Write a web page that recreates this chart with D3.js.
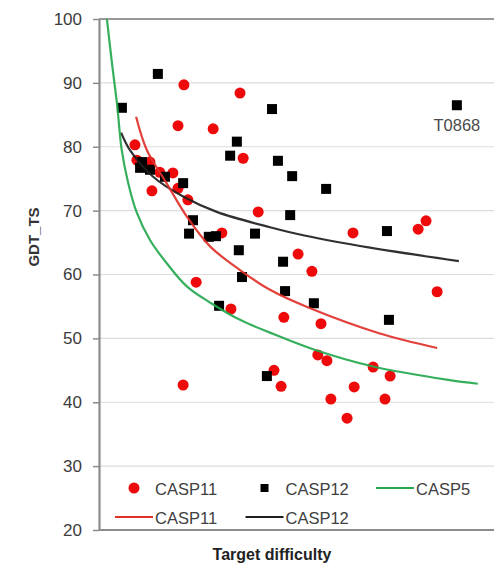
<!DOCTYPE html>
<html>
<head>
<meta charset="utf-8">
<script src="https://cdn.jsdelivr.net/npm/d3@7"></script>
<style>
  body { margin: 0; background: #fff; }
  text { font-family: "Liberation Sans", Arial, sans-serif; }
</style>
</head>
<body>
<div id="container"></div>
<script>
// x is a unitless "target difficulty" position (0..100), y is GDT_TS
let casp11Points = [
  [21.5, 89.7], [35.7, 88.4], [20.0, 83.3], [28.9, 82.8], [9.1, 80.3], [36.5, 78.2],
  [9.6, 77.9], [12.9, 77.6], [15.4, 76.0], [18.7, 75.9], [13.4, 73.1], [20.0, 73.5],
  [22.5, 71.7], [31.1, 66.5], [40.3, 69.8], [24.6, 58.8], [33.4, 54.6], [21.3, 42.7],
  [50.4, 63.2], [53.9, 60.5], [64.3, 66.5], [46.8, 53.3], [56.2, 52.3], [55.4, 47.4],
  [57.7, 46.5], [69.4, 45.5], [73.7, 44.1], [44.3, 45.0], [46.1, 42.5], [58.7, 40.5],
  [64.6, 42.4], [72.4, 40.5], [62.8, 37.5], [85.6, 57.3], [82.8, 68.4], [80.8, 67.1]
];

let casp12Points = [
  [5.8, 86.1], [14.9, 91.4], [10.9, 77.6], [10.4, 76.7], [12.9, 76.4], [16.7, 75.3],
  [21.3, 74.3], [23.8, 68.5], [22.8, 66.4], [27.8, 65.9], [29.6, 66.0], [35.4, 63.8],
  [33.2, 78.6], [34.9, 80.8], [43.8, 85.9], [45.3, 77.8], [48.9, 75.4], [57.5, 73.4],
  [48.4, 69.3], [39.5, 66.4], [46.6, 62.0], [72.9, 66.8], [90.6, 86.5], [47.1, 57.4],
  [54.4, 55.5], [73.4, 52.9], [42.5, 44.1], [30.4, 55.1], [36.2, 59.6]
];

// trend lines
let casp5Trend = [
  [2.0, 100], [3.3, 93], [4.6, 86.5], [5.75, 79.5], [7.4, 74.3], [9.5, 69.8],
  [12.9, 65.4], [17.1, 61.8], [22.3, 58.1], [28.4, 55.5], [35.7, 52.9], [43.3, 50.9],
  [54.2, 48.3], [69.4, 45.6], [88.4, 43.5], [95.9, 42.9]
];
let casp11Trend = [
  [9.4, 84.7], [12.1, 79.5], [17.1, 74.3], [22.2, 69.1], [28.1, 64.4], [35.7, 60.7],
  [43.3, 57.6], [52.7, 54.9], [70.9, 50.8], [85.6, 48.5]
];
let casp12Trend = [
  [5.6, 82.2], [7.8, 79.5], [13.7, 75.3], [21.3, 72.2], [29.8, 69.8], [43.3, 67.4],
  [52.0, 66.1], [68.6, 64.2], [91.1, 62.1]
];

let pointLabels = [ { text: "T0868", x: 90.6, y: 86.5 } ];

let yTicks = [20, 30, 40, 50, 60, 70, 80, 90, 100];

let w = 494;
let h = 564;
let plotLeft = 99, plotTop = 19, plotRight = 494, plotBottom = 530;

let viz = d3.select("#container")
  .append("svg")
    .attr("width", w)
    .attr("height", h)
;

let xScale = d3.scaleLinear().domain([0, 100]).range([plotLeft, plotRight]);
let yScale = d3.scaleLinear().domain([20, 100]).range([plotBottom, plotTop]);

// gridlines
viz.append("g").selectAll("line")
  .data(yTicks.filter(function(d){ return d > 20 && d < 100; }))
  .enter().append("line")
    .attr("x1", plotLeft).attr("x2", plotRight)
    .attr("y1", function(d){ return yScale(d); })
    .attr("y2", function(d){ return yScale(d); })
    .attr("stroke", "#dcdcdc")
    .attr("stroke-width", 1.2)
;

// frame top / bottom
viz.append("line").attr("x1", plotLeft).attr("x2", w).attr("y1", yScale(100)).attr("y2", yScale(100))
  .attr("stroke", "#999").attr("stroke-width", 2);
viz.append("line").attr("x1", plotLeft).attr("x2", w).attr("y1", yScale(20)).attr("y2", yScale(20))
  .attr("stroke", "#8c8c8c").attr("stroke-width", 2.2);

// y axis
let yAxis = d3.axisLeft(yScale).tickValues(yTicks).tickSize(6).tickSizeOuter(0).tickPadding(11);
let yAxisGroup = viz.append("g").attr("class", "yaxis")
  .attr("transform", "translate(" + plotLeft + ", 0)")
  .call(yAxis);
yAxisGroup.select(".domain").attr("stroke", "#8c8c8c").attr("stroke-width", 2.2);
yAxisGroup.selectAll(".tick line").attr("stroke", "#8c8c8c").attr("stroke-width", 1.5);
yAxisGroup.selectAll(".tick text")
  .attr("font-family", "'Liberation Sans', Arial, sans-serif")
  .attr("font-size", "17px")
  .attr("fill", "#3c3c3c");

// axis titles
viz.append("text")
  .text("GDT_TS")
  .attr("transform", "translate(39, 237) rotate(-90)")
  .attr("text-anchor", "middle")
  .attr("font-family", "'Open Sans', sans-serif")
  .attr("font-weight", "bold")
  .attr("font-size", "15px")
  .attr("fill", "#333");

viz.append("text")
  .text("Target difficulty")
  .attr("x", 272)
  .attr("y", 560)
  .attr("text-anchor", "middle")
  .attr("font-family", "'Open Sans', sans-serif")
  .attr("font-weight", "bold")
  .attr("font-size", "16px")
  .attr("fill", "#222");

// points
let pointGroup = viz.append("g");
pointGroup.selectAll(".casp11").data(casp11Points).enter()
  .append("circle")
    .attr("class", "casp11")
    .attr("cx", function(d){ return xScale(d[0]); })
    .attr("cy", function(d){ return yScale(d[1]); })
    .attr("r", 5.5)
    .attr("fill", "#ee0a0a")
;
pointGroup.selectAll(".casp12").data(casp12Points).enter()
  .append("rect")
    .attr("class", "casp12")
    .attr("x", function(d){ return xScale(d[0]) - 5; })
    .attr("y", function(d){ return yScale(d[1]) - 5; })
    .attr("width", 10)
    .attr("height", 10)
    .attr("fill", "#000")
;

// trend lines
viz.append("clipPath").attr("id", "plotclip")
  .append("rect").attr("x", plotLeft).attr("y", plotTop)
  .attr("width", plotRight - plotLeft).attr("height", plotBottom - plotTop);

let line = d3.line()
  .x(function(d){ return xScale(d[0]); })
  .y(function(d){ return yScale(d[1]); })
  .curve(d3.curveCatmullRom.alpha(0.5));

let trends = [
  { data: casp12Trend, color: "#1e1e1e" },
  { data: casp11Trend, color: "#e0302a" },
  { data: casp5Trend, color: "#25a84f" }
];
viz.append("g").attr("clip-path", "url(#plotclip)")
  .selectAll("path").data(trends).enter()
  .append("path")
    .attr("d", function(d){ return line(d.data); })
    .attr("fill", "none")
    .attr("stroke", function(d){ return d.color; })
    .attr("stroke-width", 2.2)
    .attr("stroke-opacity", 0.92)
;

// point label
viz.selectAll(".plabel").data(pointLabels).enter()
  .append("text")
    .attr("class", "plabel")
    .text(function(d){ return d.text; })
    .attr("x", function(d){ return xScale(d.x); })
    .attr("y", function(d){ return yScale(d.y) + 26; })
    .attr("text-anchor", "middle")
    .attr("font-size", "16.5px")
    .attr("fill", "#4a4a4a")
;

// legend
let legendItems = [
  { label: "CASP11", type: "circle", color: "#ee0a0a", col: 0, row: 0 },
  { label: "CASP12", type: "square", color: "#000", col: 1, row: 0 },
  { label: "CASP5", type: "line", color: "#25a84f", col: 2, row: 0 },
  { label: "CASP11", type: "line", color: "#e0302a", col: 0, row: 1 },
  { label: "CASP12", type: "line", color: "#1e1e1e", col: 1, row: 1 }
];
let legend = viz.append("g").attr("transform", "translate(155, 488)");
let items = legend.selectAll("g").data(legendItems).enter()
  .append("g")
    .attr("transform", function(d){ return "translate(" + (d.col * 130.5) + ", " + (d.row * 29) + ")"; });

items.each(function(d){
  let g = d3.select(this);
  if (d.type === "circle") {
    g.append("circle").attr("cx", -21).attr("cy", 0).attr("r", 5.5).attr("fill", d.color);
  } else if (d.type === "square") {
    g.append("rect").attr("x", -25).attr("y", -4).attr("width", 8).attr("height", 8).attr("fill", d.color);
  } else {
    g.append("line").attr("x1", -40).attr("x2", -2).attr("y1", 0).attr("y2", 0)
      .attr("stroke", d.color).attr("stroke-width", 2.2);
  }
  g.append("text")
    .text(d.label)
    .attr("x", 0)
    .attr("y", 1)
    .attr("dominant-baseline", "central")
    .attr("font-size", "16.5px")
    .attr("fill", "#404040");
});
</script>
</body>
</html>
